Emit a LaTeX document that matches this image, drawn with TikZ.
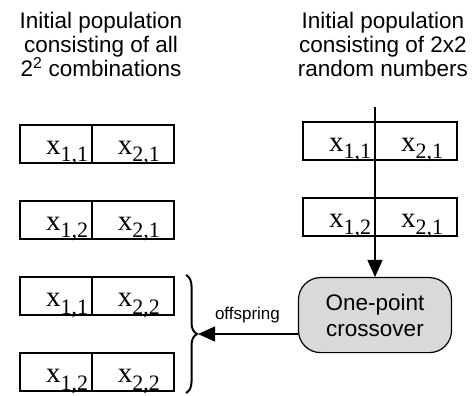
\documentclass[tikz,border=0pt]{standalone}
\usepackage{fontspec}
\setmainfont{Liberation Sans}
\newfontfamily\cellfont{Liberation Serif}
\usetikzlibrary{arrows.meta,positioning,calc,decorations.pathreplacing}

% one gene value, x with a two-index subscript
\newcommand{\gene}[1]{x\raisebox{-7.5pt}{\fontsize{22}{22}\selectfont #1}}

\begin{document}
\begin{tikzpicture}[node distance=38pt and 0pt,
  cell/.style={rectangle, draw, line width=1.8pt, inner sep=0pt, outer sep=0pt, minimum height=38pt, align=left, text height=25pt, text depth=4pt, font=\cellfont\fontsize{29}{29}\selectfont, execute at begin node=\hspace*{26pt}},
  lcell/.style={cell, text width=72pt},
  rcell/.style={cell, text width=82pt},
  title/.style={align=center, inner sep=0pt, font=\fontsize{22.5}{24}\selectfont},
  xbox/.style={rectangle, rounded corners=22pt, draw, line width=1.2pt, fill=gray!30, minimum width=153pt, minimum height=75pt, align=center, font=\fontsize{22.5}{26}\selectfont},
  line/.style={draw, line width=1.2pt, -{Triangle[length=17pt,width=15pt]}},
  brace/.style={decorate, decoration={brace, amplitude=11pt}, line width=2pt}]

  \useasboundingbox (0,0) rectangle (475pt,-396pt);

  % Titles
  \node [title, anchor=north] (ltitle) at (101pt,-12pt) {Initial population\\consisting of all\\2\textsuperscript{2} combinations};
  \node [title, anchor=north] (rtitle) at (383pt,-12pt) {Initial population\\consisting of 2x2\\random numbers};

  % Left column: all combinations
  \node [lcell, anchor=north west] (a1l) at (20pt,-125pt) {\gene{1,1}};
  \node [rcell, right=of a1l] (a1r) {\gene{2,1}};
  \node [lcell, below=of a1l] (a2l) {\gene{1,2}};
  \node [rcell, right=of a2l] (a2r) {\gene{2,1}};
  \node [lcell, below=of a2l] (a3l) {\gene{1,1}};
  \node [rcell, right=of a3l] (a3r) {\gene{2,2}};
  \node [lcell, below=of a3l] (a4l) {\gene{1,2}};
  \node [rcell, right=of a4l] (a4r) {\gene{2,2}};

  % Right column: random numbers
  \node [lcell, anchor=north west] (b1l) at (303pt,-122pt) {\gene{1,1}};
  \node [rcell, right=of b1l] (b1r) {\gene{2,1}};
  \node [lcell, below=of b1l] (b2l) {\gene{1,2}};
  \node [rcell, right=of b2l] (b2r) {\gene{2,1}};

  % Crossover
  \node [xbox, below=41pt of b2l.south east] (xover) {One-point\\crossover};
  \coordinate [above=15pt of b1l.north east] (src);

  % Brace round the offspring
  \coordinate (brtop) at ([xshift=12pt,yshift=2pt]a3r.north east);
  \coordinate (brbot) at ([xshift=12pt,yshift=-2pt]a4r.south east);
  \coordinate (brtip) at ($(brtop)!0.5!(brbot)+(11pt,0)$);
  \draw [brace] (brtop) -- (brbot);

  % Connectors
  \path [line] (src) -- (xover.north);
  \path [line, shorten >=1pt] (brtip -| xover.west) -- node[above=7pt, font=\fontsize{17}{17}\selectfont] {offspring} (brtip);
\end{tikzpicture}
\end{document}
